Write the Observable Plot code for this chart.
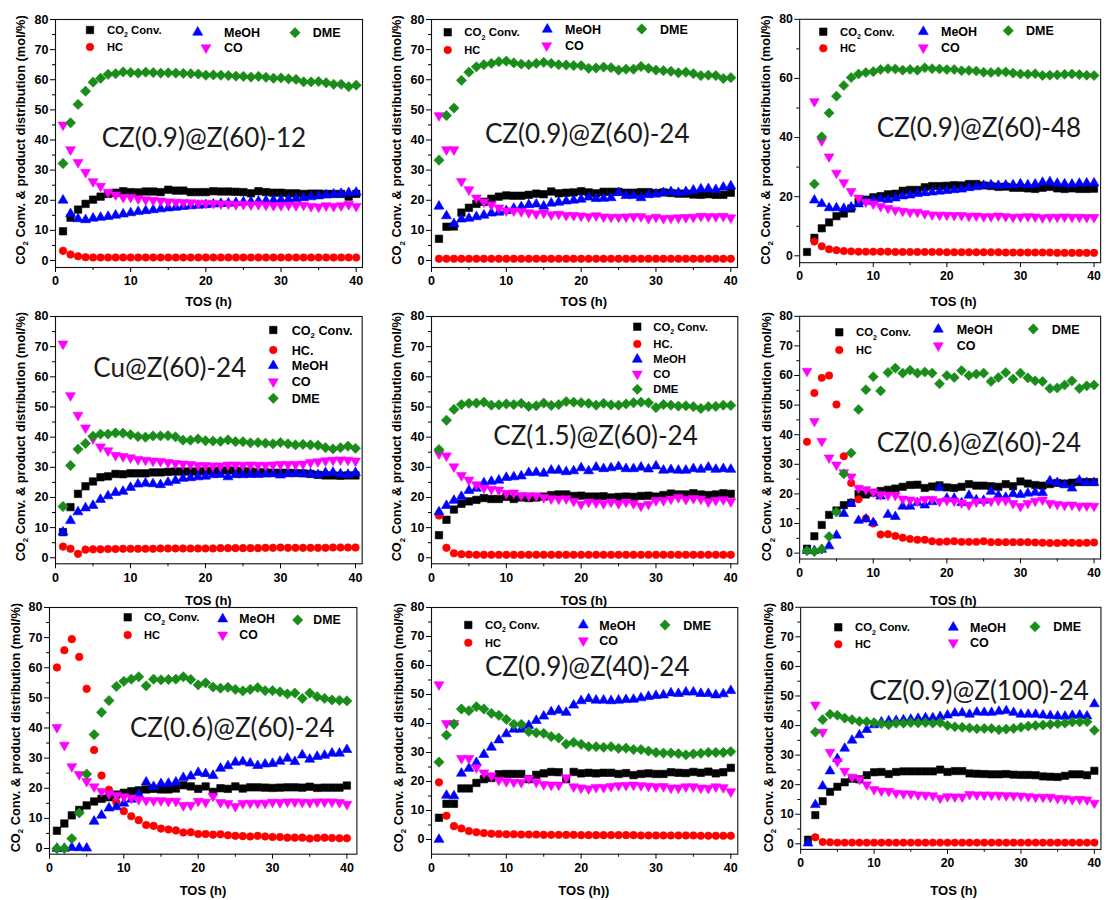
<!DOCTYPE html>
<html><head><meta charset="utf-8">
<script src="https://cdn.jsdelivr.net/npm/d3@7"></script>
<script src="https://cdn.jsdelivr.net/npm/@observablehq/plot@0.6"></script>
<style>
html,body{margin:0;padding:0;background:#fff;}
#page{position:relative;width:1108px;height:900px;overflow:hidden;background:#fff;}
.pl{position:absolute;}
</style></head>
<body><div id="page"></div>
<script>
// ---------- DATA ----------
const hours = [1,2,3,4,5,6,7,8,9,10,11,12,13,14,15,16,17,18,19,20,21,22,23,24,25,26,27,28,29,30,31,32,33,34,35,36,37,38,39,40];
const xTicks = [0,10,20,30,40];
const xMinor = [5,15,25,35];
const yTicks10 = [0,10,20,30,40,50,60,70,80];
const yMinor10 = [5,15,25,35,45,55,65,75];
const yTicks20 = [0,20,40,60,80];
const yMinor20 = [10,30,50,70];
const seriesNames = ["CO2 Conv.","HC","MeOH","CO","DME"];
const panelNames = ["CZ(0.9)@Z(60)-12","CZ(0.9)@Z(60)-24","CZ(0.9)@Z(60)-48","Cu@Z(60)-24","CZ(1.5)@Z(60)-24","CZ(0.6)@Z(60)-24","CZ(0.6)@Z(60)-24","CZ(0.9)@Z(40)-24","CZ(0.9)@Z(100)-24"];

// Panel 1
const p1_co2 = [9.7,14.2,16.9,18.8,20.2,21.2,22.1,22.5,23.0,22.7,22.6,22.9,22.9,22.7,23.5,23.2,23.2,22.7,22.7,22.7,23.0,22.9,22.9,22.8,22.7,22.3,23.0,22.7,22.5,22.5,22.3,22.3,22.1,22.2,22.2,22.1,22.1,22.1,21.2,22.1];
const p1_hc = [3.2,2.0,1.4,1.1,1.0,1.0,1.0,1.0,1.0,1.0,1.0,1.0,1.0,1.0,1.0,1.0,1.0,1.0,1.0,1.0,1.0,1.0,1.0,1.0,1.0,1.0,1.0,1.0,1.0,1.0,1.0,1.0,1.0,1.0,1.0,1.0,1.0,1.0,1.0,1.0];
const p1_meoh = [20.0,15.5,13.8,13.5,14.0,14.3,14.6,15.0,15.4,15.8,16.2,16.5,16.8,17.1,17.4,17.6,17.9,18.1,18.3,18.5,18.7,18.9,19.0,19.2,19.4,19.5,19.7,19.8,20.0,20.1,20.3,20.5,20.8,21.1,21.4,21.7,22.0,22.2,22.5,22.6];
const p1_co = [45.0,36.8,32.6,29.3,26.2,24.7,22.7,21.8,21.0,21.0,20.5,20.2,20.0,19.8,19.5,19.4,19.3,19.2,19.0,19.0,19.0,18.8,18.8,18.6,18.7,18.5,18.6,18.4,18.3,18.3,18.4,18.3,18.4,18.0,17.8,18.2,18.0,18.2,18.6,18.0];
const p1_dme = [32.2,45.7,51.8,56.2,59.2,60.5,61.8,62.0,62.6,62.4,62.2,62.5,62.4,62.2,62.3,62.2,62.1,62.0,61.9,61.5,61.6,61.5,61.4,61.2,61.1,60.9,61.1,60.8,60.5,60.6,60.3,60.1,59.3,59.3,59.4,59.0,58.5,58.5,57.7,58.2];
// Panel 2
const p2_co2 = [7.2,11.2,11.3,15.9,17.5,18.8,19.5,20.5,21.2,21.6,21.5,21.5,21.8,22.2,22.0,22.9,22.3,22.5,22.6,23.0,22.6,22.3,22.8,22.8,22.8,22.5,22.5,22.7,22.7,22.4,22.6,22.4,22.2,22.2,21.9,21.8,22.0,21.8,21.8,22.5];
const p2_hc = [0.6,0.6,0.6,0.6,0.6,0.6,0.6,0.6,0.6,0.6,0.6,0.6,0.6,0.6,0.6,0.6,0.6,0.6,0.6,0.6,0.6,0.6,0.6,0.6,0.6,0.6,0.6,0.6,0.6,0.6,0.6,0.6,0.6,0.6,0.6,0.6,0.6,0.6,0.6,0.6];
const p2_meoh = [18.0,14.8,12.2,13.7,14.0,14.5,15.0,15.7,16.0,16.5,17.3,17.8,18.5,18.7,18.0,19.0,19.3,19.7,20.0,20.3,21.0,20.5,20.6,20.8,22.5,21.5,21.5,20.8,21.8,22.0,22.5,22.8,22.5,22.8,23.3,23.7,23.8,23.5,24.3,24.7];
const p2_co = [48.1,36.8,36.8,26.3,23.5,20.8,19.5,18.5,17.5,16.5,16.5,16.3,15.9,15.5,15.8,15.2,15.4,15.0,15.0,14.8,14.6,14.9,14.5,14.4,14.4,14.5,14.6,14.6,14.0,14.4,14.0,14.1,14.2,14.3,14.4,14.7,14.6,14.6,14.7,14.2];
const p2_dme = [33.3,48.1,50.6,59.8,62.5,64.3,65.0,65.4,66.0,66.2,65.6,65.2,65.0,65.4,65.8,65.4,65.0,64.9,64.7,64.7,63.8,63.9,64.2,64.0,63.2,63.5,63.5,64.4,63.8,63.2,63.0,62.8,62.3,62.5,62.0,61.4,61.5,61.4,60.4,60.7];
// Panel 3
const p3_co2 = [1.3,6.1,9.3,11.3,13.4,14.3,16.0,18.3,19.0,19.8,20.2,20.8,21.0,22.0,22.3,22.3,23.2,23.6,23.6,23.7,23.9,23.8,24.3,24.3,23.8,23.6,23.3,23.4,23.0,23.0,22.8,22.6,23.0,23.3,22.8,22.6,22.8,22.6,22.6,22.7];
const p3_hc = [null,4.8,3.2,2.2,1.9,1.6,1.5,1.4,1.4,1.4,1.4,1.4,1.3,1.3,1.3,1.3,1.3,1.3,1.3,1.2,1.2,1.2,1.2,1.2,1.2,1.2,1.2,1.1,1.1,1.1,1.1,1.1,1.1,1.1,1.0,1.0,1.0,1.0,1.0,1.0];
const p3_meoh = [null,18.8,17.6,16.2,16.2,16.0,16.5,17.5,18.4,18.8,19.2,19.0,19.5,20.2,20.5,21.0,21.3,21.5,21.8,22.0,22.3,22.5,23.0,23.3,23.8,24.0,23.8,23.9,24.0,24.3,24.0,24.2,24.8,25.0,24.5,24.3,24.2,24.5,24.6,24.6];
const p3_co = [null,52.2,38.9,33.5,28.0,24.8,21.8,19.6,18.2,17.6,16.7,16.1,15.5,15.1,14.8,14.8,14.3,13.9,13.8,13.8,13.7,13.7,13.4,13.5,13.3,13.3,13.5,13.3,13.1,13.2,13.3,13.2,12.9,13.1,13.1,13.2,13.1,13.1,13.0,13.0];
const p3_dme = [null,24.3,40.3,48.3,54.0,57.6,60.3,61.5,62.0,62.3,63.0,63.3,63.2,62.8,63.0,62.8,63.6,63.3,63.2,63.0,63.0,62.6,62.7,62.5,62.1,62.0,62.2,62.2,61.8,61.5,61.4,61.6,61.0,61.1,61.2,61.4,61.5,61.3,61.1,61.0];
// Panel 4
const p4_co2 = [8.5,16.8,21.2,23.7,25.3,26.7,27.0,27.8,27.7,28.0,28.0,28.0,28.3,28.3,28.5,28.6,28.6,28.6,28.6,28.8,28.8,28.9,29.0,28.9,28.7,28.6,28.4,28.3,28.2,28.2,28.2,28.1,28.0,27.8,27.5,27.3,27.3,27.2,27.3,27.3];
const p4_hc = [3.7,3.0,1.3,2.7,2.8,2.8,2.9,2.9,3.0,3.0,3.0,3.0,3.0,3.1,3.1,3.1,3.1,3.1,3.1,3.1,3.1,3.2,3.2,3.2,3.2,3.2,3.2,3.3,3.3,3.4,3.3,3.3,3.3,3.3,3.3,3.3,3.4,3.4,3.4,3.4];
const p4_meoh = [8.5,12.3,15.2,16.5,17.3,19.3,20.5,21.6,22.0,23.3,24.4,24.7,24.5,24.2,25.0,25.6,26.3,26.5,26.8,27.0,27.5,27.6,26.8,27.5,27.5,27.6,27.6,27.7,27.8,27.4,27.8,28.0,28.0,27.8,27.5,28.2,28.3,27.8,27.6,28.2];
const p4_co = [70.9,53.8,47.3,43.1,39.5,36.8,35.5,34.0,33.6,33.2,32.6,32.4,32.1,32.0,31.6,31.3,31.1,31.0,30.6,30.6,30.5,30.5,30.8,30.8,30.7,30.8,30.7,30.7,30.8,31.0,31.0,31.0,31.1,31.6,31.9,32.2,32.4,32.5,32.4,32.1];
const p4_dme = [17.0,30.6,36.0,37.9,40.3,41.0,41.0,41.4,41.3,40.8,40.2,40.0,40.4,40.4,40.5,40.1,39.0,39.0,39.4,38.8,38.7,38.6,39.1,38.5,38.5,38.1,38.2,38.0,37.8,38.2,37.8,37.4,37.6,37.4,37.3,36.5,36.1,36.5,37.0,36.3];
// Panel 5
const p5_co2 = [7.5,12.6,16.0,17.9,18.7,19.2,19.8,19.5,19.5,20.2,19.5,20.0,19.8,20.0,20.3,20.8,21.0,21.0,20.5,20.6,20.3,20.3,20.4,20.0,20.2,20.3,20.2,20.5,20.6,20.3,20.8,21.3,21.0,21.0,21.4,21.0,20.8,21.0,21.4,21.2];
const p5_hc = [14.0,3.3,1.5,1.2,1.1,1.0,1.0,1.0,1.0,1.0,1.0,1.0,1.0,1.0,1.0,1.0,1.0,1.0,1.0,1.0,1.0,1.0,1.0,1.0,1.0,1.0,1.0,1.0,1.0,1.0,1.0,1.0,1.0,1.0,1.0,1.0,1.0,1.0,1.0,1.0];
const p5_meoh = [15.2,17.3,19.0,20.3,22.3,23.0,24.8,25.3,25.7,26.6,26.8,27.1,28.2,28.3,28.0,29.0,29.0,28.5,28.8,29.8,28.8,30.0,29.5,29.8,30.2,29.5,29.5,30.0,29.4,30.4,29.0,29.2,29.0,29.0,29.5,29.3,30.0,29.3,29.5,29.3];
const p5_co = [34.5,33.8,30.2,27.3,25.8,24.3,23.2,22.8,22.5,21.4,21.5,20.7,20.6,20.6,20.0,19.6,19.5,19.6,18.8,17.8,18.5,18.3,18.0,18.5,18.0,18.5,18.0,17.2,17.8,19.0,19.0,19.5,20.0,19.4,19.7,19.5,18.6,19.1,19.3,18.7];
const p5_dme = [35.9,45.6,49.2,50.8,51.2,51.3,51.6,50.6,50.7,51.0,50.8,51.2,50.2,50.4,51.3,50.5,50.8,51.8,51.6,51.4,51.2,50.6,51.2,50.7,50.6,51.0,51.4,51.6,51.4,49.8,50.8,50.6,50.3,50.4,50.1,49.5,50.1,50.2,50.6,50.5];
// Panel 6
const p6_co2 = [1.5,5.7,9.5,12.9,14.4,16.2,17.0,20.0,19.8,20.4,21.0,21.4,21.8,22.4,23.0,23.1,22.0,22.5,22.9,22.2,22.0,22.4,23.3,22.8,22.8,22.6,22.4,23.3,22.6,24.2,23.5,23.0,22.8,23.3,23.7,23.5,23.8,24.0,24.0,24.0];
const p6_hc = [37.6,54.1,59.2,60.0,50.2,32.7,23.7,18.2,11.7,10.0,6.3,6.4,5.8,5.2,4.8,4.5,4.5,4.0,3.8,3.9,4.0,3.8,3.8,3.8,4.0,3.7,3.7,3.7,3.7,3.7,3.7,3.6,3.5,3.4,3.4,3.5,3.5,3.4,3.5,3.6];
const p6_meoh = [0.8,0.8,1.2,2.4,6.0,13.3,16.7,11.0,11.5,10.3,19.2,13.0,12.3,15.8,15.8,17.0,16.2,17.3,22.0,18.5,18.5,17.0,19.5,18.0,17.8,20.8,19.5,18.8,20.0,19.7,20.2,20.5,20.4,24.4,23.8,23.0,21.9,24.6,23.8,23.8];
const p6_co = [61.5,44.5,37.8,32.2,29.8,27.2,25.8,22.0,21.5,20.6,19.8,19.6,19.5,18.3,18.0,17.6,18.2,18.2,17.5,17.8,17.6,17.0,16.3,17.3,17.5,17.6,17.8,17.8,16.8,15.8,16.8,17.6,18.0,16.8,16.5,16.2,16.3,15.9,16.0,15.9];
const p6_dme = [0.8,0.5,1.3,5.6,13.9,26.8,33.8,48.5,55.2,59.6,54.8,61.0,62.5,60.8,61.8,60.8,61.2,60.8,57.2,60.0,59.3,61.7,60.0,60.5,60.8,58.0,59.3,61.0,58.8,60.8,59.2,58.2,58.0,55.6,55.8,56.8,58.2,55.6,56.5,56.8];
// Panel 7
const p7_co2 = [5.9,8.3,11.0,12.8,14.3,15.6,16.5,17.0,17.9,18.5,19.0,19.3,19.6,19.8,19.6,19.6,19.9,21.0,20.6,19.8,20.6,18.8,20.0,19.8,20.6,19.9,20.3,20.3,20.2,20.1,20.2,20.3,20.3,20.2,20.5,20.1,20.2,20.2,20.2,20.9];
const p7_hc = [60.1,65.8,69.5,63.6,53.0,32.7,24.2,19.5,15.3,12.4,10.7,9.4,7.8,7.5,6.6,6.3,6.0,5.3,5.4,4.8,4.8,4.6,4.7,4.4,4.2,4.1,4.0,4.2,4.0,3.8,3.8,3.6,3.6,3.6,3.3,3.5,3.6,3.5,3.4,3.4];
const p7_meoh = [0,0,0.3,0.2,0.1,9.0,11.0,13.4,13.8,15.0,16.3,18.0,22.0,20.5,21.5,21.6,22.0,23.5,24.0,25.2,24.8,24.2,26.6,27.4,28.6,28.8,28.3,27.5,28.0,28.2,28.9,29.9,28.8,31.0,29.6,30.5,30.9,31.6,31.6,32.8];
const p7_co = [40.2,34.3,27.2,24.6,22.3,20.5,19.0,18.2,17.6,17.2,16.8,16.3,16.0,15.9,15.9,15.7,15.7,14.3,14.4,15.7,15.4,17.4,15.3,15.0,14.0,15.0,15.1,15.1,15.1,15.4,15.3,15.5,15.5,15.4,15.3,15.5,15.5,15.5,15.3,14.7];
const p7_dme = [0,0,3.3,11.8,24.7,37.8,45.2,49.1,53.8,55.5,56.2,57.0,54.0,56.2,56.0,56.1,56.2,57.0,56.1,54.3,55.0,53.6,53.2,53.5,52.8,52.3,52.8,53.4,52.4,52.4,52.0,51.3,51.6,49.8,51.6,50.4,49.8,49.3,49.2,49.0];
// Panel 8
const p8_co2 = [7.5,12.3,12.3,17.6,17.6,19.5,20.8,21.2,22.5,22.6,22.6,22.6,20.8,22.3,22.8,23.3,23.2,20.8,23.3,22.8,23.0,22.8,23.0,23.0,22.6,22.9,22.2,22.6,22.8,22.6,22.6,23.2,23.0,22.9,23.3,23.0,23.4,22.8,23.2,24.7];
const p8_hc = [19.7,8.2,4.6,3.8,2.9,2.5,2.2,2.0,1.9,1.8,1.8,1.7,1.7,1.7,1.6,1.6,1.6,1.6,1.6,1.5,1.5,1.5,1.5,1.5,1.5,1.5,1.5,1.4,1.4,1.4,1.4,1.4,1.4,1.4,1.4,1.3,1.3,1.3,1.3,1.3];
const p8_meoh = [0,15.2,15.0,22.8,24.5,26.5,29.3,31.8,34.3,36.4,38.0,38.0,39.3,41.0,42.5,44.0,44.5,43.8,46.3,47.8,48.5,48.0,48.0,47.8,48.0,48.2,48.3,48.8,49.3,49.6,49.8,50.5,50.3,50.8,50.8,50.3,50.3,49.8,50.2,51.3];
const p8_co = [53.4,40.0,40.0,28.0,28.0,24.8,23.0,22.0,20.5,20.0,19.8,19.7,21.0,19.8,19.0,18.8,18.8,21.3,18.2,17.8,17.5,18.0,18.0,18.3,18.6,18.7,18.8,18.6,18.4,18.2,18.3,17.8,17.8,18.2,18.2,17.8,17.7,18.2,17.9,16.5];
const p8_dme = [26.7,36.0,39.8,45.0,44.4,45.8,45.0,43.5,42.8,41.4,39.7,39.7,37.2,36.8,36.6,35.5,35.0,32.9,33.5,32.8,32.0,32.0,31.8,32.0,31.4,31.5,31.0,31.0,30.5,30.0,29.8,29.8,29.6,29.2,29.5,29.7,30.0,30.0,30.0,30.3];
// Panel 9
const p9_co2 = [1.4,9.7,14.4,17.6,19.3,20.8,22.0,21.8,23.2,24.2,24.3,23.6,24.3,24.5,24.5,24.5,24.5,24.5,25.1,24.3,24.6,24.6,23.8,23.7,23.6,23.5,23.5,23.6,23.4,23.3,23.3,23.2,22.8,22.7,22.6,23.0,23.5,23.5,23.2,24.7];
const p9_hc = [null,2.2,0.6,0.5,0.4,0.4,0.4,0.4,0.4,0.4,0.4,0.4,0.4,0.4,0.4,0.4,0.4,0.4,0.4,0.4,0.4,0.4,0.4,0.4,0.4,0.4,0.4,0.4,0.4,0.4,0.4,0.4,0.4,0.4,0.4,0.4,0.4,0.4,0.4,0.4];
const p9_meoh = [0.2,13.2,19.5,24.6,28.8,32.3,35.0,36.8,38.6,40.2,41.2,41.6,41.7,41.9,42.1,42.4,42.6,42.6,43.0,43.5,44.2,44.3,43.8,44.5,44.4,44.4,44.8,45.0,44.4,43.8,43.8,43.8,43.5,43.3,43.2,43.1,43.4,43.5,43.2,47.3];
const p9_co = [null,47.0,37.8,31.0,27.8,24.6,22.6,21.8,20.0,18.4,17.9,17.8,17.2,17.0,16.9,16.6,16.5,16.3,15.5,16.0,15.9,15.9,16.7,16.6,16.6,16.5,16.5,16.3,16.3,16.2,16.0,15.8,15.8,15.8,15.4,15.3,15.0,15.1,14.9,13.8];
const p9_dme = [null,37.8,42.0,43.8,43.5,42.5,42.0,41.4,41.3,41.0,40.6,40.3,40.8,40.8,41.0,40.9,41.0,40.8,41.0,40.0,39.6,39.4,39.2,38.9,39.0,39.0,38.6,38.8,39.0,39.4,39.8,40.0,40.2,40.4,40.6,40.8,41.2,41.2,41.3,38.4];

// ---------- STYLE / LAYOUT ----------
const SERIES = [
  {color:"#000000", symbol:"square",   r:4.2, rotate:0},
  {color:"#ff0000", symbol:"circle",   r:3.8, rotate:0},
  {color:"#0000ff", symbol:"triangle", r:3.7, rotate:0},
  {color:"#ff00ff", symbol:"triangle", r:3.7, rotate:180},
  {color:"#1a8c1a", symbol:"square",   r:4.1, rotate:45}
];
// frame geometry in page px: x0 (x=0), x40 (x=40), right edge, y80, y0, bottom edge
const PANELS = [
 {data:[p1_co2,p1_hc,p1_meoh,p1_co,p1_dme], g:[55,355.7,362,19,260,267], yt:yTicks10, ym:yMinor10, ylab:20, xlabY:306, xlab:"TOS (h)", ann:[101.7,147],
  leg:[[90,107,30,11.3],[90,107,47,11,"HC"],[197.7,224,32.3,12.5],[206,224,47.7,12.5],[295,312.7,32.7,12.5]]},
 {data:[p2_co2,p2_hc,p2_meoh,p2_co,p2_dme], g:[430.7,730,736.7,19,260,267], yt:yTicks10, ym:yMinor10, ylab:396.7, xlabY:306, xlab:"TOS (h)", ann:[485,143.3],
  leg:[[447.7,464.3,32.3,11.5],[447.7,464.3,50,11,"HC"],[547.3,565,29.3,12.5],[546.7,565,45.7,12.5],[641.7,660,29,12.5]]},
 {data:[p3_co2,p3_hc,p3_meoh,p3_co,p3_dme], g:[800,1100,1106.7,19,260,267], yt:yTicks20, ym:yMinor20, ylab:765, xlabY:306, xlab:"TOS (h)", ann:[876.7,136.7],
  leg:[[823.3,840,31.7,11.3],[823.3,840,48.3,11,"HC"],[923.3,941,31.7,12.5],[923.3,941,47.7,12.5],[1008.3,1026,30.7,12.5]]},
 {data:[p4_co2,p4_hc,p4_meoh,p4_co,p4_dme], g:[55,355,361.7,316,557.3,563.3], yt:yTicks10, ym:yMinor10, ylab:20, xlabY:605, xlab:"TOS (h)", ann:[93.3,376.7],
  leg:[[273.3,291.7,330,12.6],[273.3,291.7,350,12.6,"HC."],[273.3,291.7,365.7,12.6],[273.3,291.7,381.7,12.6],[273.3,291.7,398.3,12.6]]},
 {data:[p5_co2,p5_hc,p5_meoh,p5_co,p5_dme], g:[430.7,730,737,316,557.3,563.3], yt:yTicks10, ym:yMinor10, ylab:396.7, xlabY:605, xlab:"TOS (h)", ann:[493.3,445],
  leg:[[637.3,653.3,326.7,11.3],[637.3,653.3,344,11.3,"HC."],[637.3,653.3,359.3,11.3],[637.3,653.3,374,11.3],[637.3,653.3,389.3,11.3]]},
 {data:[p6_co2,p6_hc,p6_meoh,p6_co,p6_dme], g:[800,1100,1106.7,316,557.3,563.3], yt:yTicks10, ym:yMinor10, ylab:766.7, xlabY:605, xlab:"TOS (h)", ann:[876.7,451.7],
  leg:[[839.3,856,332.3,11.4],[839.3,856,350,11,"HC"],[938.3,956.7,329.3,12.5],[938.3,956.7,345.7,12.5],[1033.3,1051.7,329,12.5]]},
 {data:[p7_co2,p7_hc,p7_meoh,p7_co,p7_dme], g:[49.3,346.7,356.7,607.3,848.3,854], yt:yTicks10, ym:yMinor10, ylab:15, xlabY:895, xlab:"TOS (h)", ann:[130,736.7],
  leg:[[127.7,144,617.3,11.5],[127.7,144,635,11,"HC"],[222.7,239.3,619,12.3],[222.7,239.3,635,12.3],[297.7,313.3,620,12.3]]},
 {data:[p8_co2,p8_hc,p8_meoh,p8_co,p8_dme], g:[430.7,730,737,607.3,839.3,854], yt:yTicks10, ym:yMinor10, ylab:398.3, xlabY:895, xlab:"TOS (h))", ann:[485,676],
  leg:[[468.3,485,625,11.3],[468.3,485,642.7,11,"HC"],[583.3,599.3,625,12.5],[583.3,599.3,640.7,12.5],[665,683.3,625,12.5]]},
 {data:[p9_co2,p9_hc,p9_meoh,p9_co,p9_dme], g:[800.7,1100,1106.7,607.3,848.3,854], yt:yTicks10, ym:yMinor10, ylab:768.3, xlabY:895, xlab:"TOS (h)", ann:[869.3,700],
  leg:[[838.3,855,627.3,11.4],[838.3,855,644.3,11,"HC"],[953.3,970,627.3,12.5],[953.3,970,642.7,12.5],[1035,1053.3,626.7,12.5]]}
];

const page = document.getElementById("page");
const hasAxisMarks = typeof Plot.axisY === "function";
const FONT = "'Liberation Sans', Arial, sans-serif";

PANELS.forEach((p, pi) => {
  const [x0, x40, right, y80, y0, bottom] = p.g;
  const ml = 45, mr = 8, mt = 10, mb = 26;
  const fw = right - x0, fh = bottom - y80;
  const xMax = 40 * (right - x0) / (x40 - x0);
  const yMin = -80 * (bottom - y0) / (y0 - y80);
  const marks = [];
  SERIES.forEach((s, si) => {
    const vals = p.data[si];
    const rows = hours.map((h, j) => ({h, v: vals[j]})).filter(d => d.v != null);
    marks.push(Plot.dot(rows, {x: "h", y: "v", symbol: s.symbol, r: s.r, fill: s.color, stroke: s.color, strokeWidth: 0.6, rotate: s.rotate}));
  });
  if (hasAxisMarks) {
    marks.push(Plot.axisY({ticks: p.yt, tickSize: 5, tickPadding: 2, label: null}));
    marks.push(Plot.axisY({ticks: p.ym, tickSize: 3, tickFormat: () => "", label: null}));
    marks.push(Plot.axisX({ticks: xTicks, tickSize: 5, tickPadding: 4, label: null}));
    marks.push(Plot.axisX({ticks: xMinor, tickSize: 3, tickFormat: () => "", label: null}));
  }
  marks.push(Plot.frame({stroke: "#111", strokeWidth: 1.1}));
  const xOpt = {domain: [0, xMax], label: null};
  const yOpt = {domain: [yMin, 80], label: null};
  if (!hasAxisMarks) { xOpt.ticks = xTicks; xOpt.tickSize = 5; yOpt.ticks = p.yt; yOpt.tickSize = 5; }
  const chart = Plot.plot({
    width: ml + fw + mr, height: mt + fh + mb,
    marginLeft: ml, marginRight: mr, marginTop: mt, marginBottom: mb,
    x: xOpt, y: yOpt,
    style: {fontFamily: FONT, fontSize: "12.5px", fontWeight: "bold", background: "transparent", overflow: "visible", color: "#000"},
    marks
  });
  const wrap = document.createElement("div");
  wrap.className = "pl";
  wrap.style.left = (x0 - ml) + "px";
  wrap.style.top = (y80 - mt) + "px";
  wrap.appendChild(chart);
  page.appendChild(wrap);
});

// ---------- OVERLAY: titles, legends, annotations ----------
const ov = d3.select(page).append("svg")
  .attr("width", 1108).attr("height", 900)
  .style("position", "absolute").style("left", "0px").style("top", "0px")
  .style("pointer-events", "none").style("overflow", "visible");

function co2Text(sel, size, tail) {
  sel.append("tspan").text("CO");
  sel.append("tspan").text("2").attr("font-size", size * 0.62).attr("dy", size * 0.28);
  sel.append("tspan").text(tail).attr("dy", -size * 0.28);
}
const symMap = {square: d3.symbolSquare, circle: d3.symbolCircle, triangle: d3.symbolTriangle};

PANELS.forEach((p, pi) => {
  const [x0, x40, right, y80, y0, bottom] = p.g;
  // y axis title
  const yt = ov.append("text")
    .attr("transform", `translate(${p.ylab + 4.5},${(y80 + bottom) / 2 - 3}) rotate(-90)`)
    .attr("text-anchor", "middle").attr("font-family", FONT).attr("font-weight", "bold")
    .attr("font-size", 12.8).attr("fill", "#000");
  co2Text(yt, 12.8, " Conv. & product distribution (mol/%)");
  // x axis title
  ov.append("text").attr("x", (x0 + right) / 2).attr("y", p.xlabY)
    .attr("text-anchor", "middle").attr("font-family", FONT).attr("font-weight", "bold")
    .attr("font-size", 13).attr("fill", "#000").text(p.xlab);
  // annotation
  ov.append("text").attr("x", p.ann[0]).attr("y", p.ann[1])
    .attr("font-family", "Lato, 'Open Sans', sans-serif").attr("font-size", 26)
    .attr("fill", "#1a1a1a").text(panelNames[pi]);
  // legend
  p.leg.forEach((it, si) => {
    const [mx, tx, ly, fs, lbl] = it;
    const s = SERIES[si];
    ov.append("path")
      .attr("d", d3.symbol().type(symMap[s.symbol]).size(Math.PI * s.r * s.r)())
      .attr("transform", `translate(${mx},${ly}) rotate(${s.rotate})`)
      .attr("fill", s.color).attr("stroke", s.color).attr("stroke-width", 0.6);
    const t = ov.append("text").attr("x", tx).attr("y", ly + fs * 0.36)
      .attr("font-family", FONT).attr("font-weight", "bold").attr("font-size", fs).attr("fill", "#000");
    if (si === 0) co2Text(t, fs, " Conv.");
    else t.text(lbl || seriesNames[si]);
  });
});
</script>
</body></html>
